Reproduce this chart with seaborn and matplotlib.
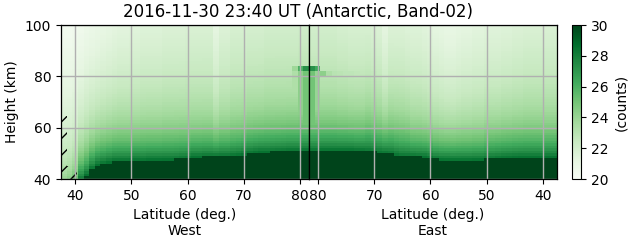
import numpy as np
import pandas as pd
import matplotlib
matplotlib.use("Agg")
import matplotlib.pyplot as plt
import seaborn as sns

# ---------------- data ----------------
title = "2016-11-30 23:40 UT (Antarctic, Band-02)"
lat_min, lat_max = 37.5, 81.6          # latitude range of each half
h_min, h_max = 40, 100                 # height range (km)
n_cols = 44                            # ~1 degree columns per half
west_ticks = [40, 50, 60, 70, 80]
east_ticks = [80, 70, 60, 50, 40]
height_ticks = [40, 60, 80, 100]
cbar_ticks = [20, 22, 24, 26, 28, 30]

# West half, columns ordered from 37.5 deg (left) to 81.6 deg (pole)
dark_top_w = [28, 30, 33, 39.5, 41.5, 44, 45.5, 46, 46.5, 47, 47, 47, 47.2, 47.2,
              47.2, 47.4, 47.4, 47.4, 47.5, 47.5, 47.6, 47.8, 48, 48.5, 48.5, 48.7,
              48.7, 48.7, 48.8, 48.8, 49, 49.2, 49.5, 50, 50.3, 50.5, 50.5, 50.6,
              50.7, 50.8, 51, 51, 51, 51]
grad_w_w = [9, 9, 9, 10, 10, 10, 10, 10, 10, 10, 10, 10, 9.5, 9.5, 9.5, 9.5, 9.5,
            9.5, 9.5, 9.5, 9.5, 9.5, 9, 9, 9, 9, 9, 9, 9, 9, 9, 9, 9, 9, 9, 9, 9, 9,
            9, 9, 9, 9, 9, 9]
bg_top_w = [20.3, 20.3, 20.4, 20.5, 20.7, 20.8, 20.9, 21.0, 21.1, 21.2, 21.3, 21.3,
            21.4, 21.4, 21.5, 21.5, 21.5, 21.5, 21.6, 21.6, 21.6, 21.6, 21.7, 21.7,
            21.7, 21.7, 21.7, 21.2, 21.6, 21.6, 21.8, 21.8, 21.8, 21.9, 21.9, 21.9,
            22.0, 22.0, 22.0, 22.0, 22.0, 22.0, 22.1, 22.1]
plume_w = [0] * 41 + [23.3, 24.3, 25.0]      # enhanced column near the pole
cap_w = [0] * 41 + [23.8, 26.0, 27.3]        # bright cap at 82-84 km
layer_w = [0] * 44                           # faint layer at 80-82 km

# East half, columns ordered from 81.6 deg (pole) to 37.5 deg (right)
dark_top_e = [51, 51, 51.2, 51.2, 51.2, 51.2, 51.2, 51.2, 51, 51, 50.8, 50.6, 50.2,
              50, 49.8, 49.2, 48.8, 48.7, 48.7, 48.6, 48.5, 48.2, 47.6, 47.4, 47.4,
              47.3, 47.3, 47.3, 47.3, 47.4, 47.4, 47.6, 47.8, 48, 48.2, 48.3, 48.4,
              48.5, 48.5, 48.5, 48.5, 48.4, 48.4, 48.4]
grad_w_e = [9, 9, 9, 9, 9, 9, 9, 9, 9, 9, 10, 10, 10, 10, 10, 10, 10, 10, 9, 9, 9,
            9, 9, 9, 9, 9, 9, 9, 9, 9, 9, 9.5, 9.5, 9.5, 9.5, 9.5, 9.5, 9.5, 9.5,
            9.5, 9.5, 9.5, 9.5, 9.5]
bg_top_e = [22.0, 22.0, 22.0, 22.0, 22.0, 21.9, 21.9, 21.8, 21.8, 21.8, 21.8, 21.7,
            21.6, 21.2, 21.6, 21.6, 21.6, 21.5, 21.5, 21.5, 21.4, 21.3, 21.2, 21.1,
            21.0, 21.0, 21.1, 21.2, 21.2, 21.3, 21.3, 21.4, 21.4, 21.4, 21.5, 21.5,
            21.6, 21.6, 21.7, 21.7, 21.7, 21.7, 21.7, 21.7]
plume_e = [25.0, 24.0] + [0] * 42
cap_e = [27.3, 26.3] + [0] * 42
layer_e = [0, 0, 24.3, 23.3, 23.0, 22.9, 22.8, 22.8, 22.7] + [0] * 35

bg_slope = 0.035        # counts per km increase of background downward
# no-data (hatched) area on the West side: (lat, height) corners
hatch_lat = [37.5, 37.5, 38.6, 38.6, 40.3, 40.3]
hatch_h = [40, 64.5, 64.5, 45, 45, 40]


def build(dark, gw, bgt, plume, cap, layer):
    heights = np.arange(h_max - 0.5, h_min, -1.0)   # top row first
    grid = np.zeros((len(heights), n_cols))
    for c in range(n_cols):
        bg = bgt[c] + bg_slope * (100 - heights)
        val = bg + (28.5 - bg) * np.exp(-(heights - dark[c]) / gw[c])
        val = np.where(heights < dark[c], 31.0, val)
        if plume[c]:
            m = (heights > dark[c]) & (heights < 82)
            val[m] = np.maximum(val[m], plume[c])
        if layer[c]:
            m = (heights > 80) & (heights < 82)
            val[m] = np.maximum(val[m], layer[c])
        if cap[c]:
            m = (heights > 82) & (heights < 84.5)
            val[m] = np.maximum(val[m], cap[c])
        grid[:, c] = val
    return pd.DataFrame(grid, index=heights)


west = build(dark_top_w, grad_w_w, bg_top_w, plume_w, cap_w, layer_w)
east = build(dark_top_e, grad_w_e, bg_top_e, plume_e, cap_e, layer_e)

# ---------------- figure ----------------
fig = plt.figure(figsize=(6.31, 2.43), dpi=100)
W, H = 631, 243
def box(x0, x1, y0, y1):
    return [x0 / W, 1 - y1 / H, (x1 - x0) / W, (y1 - y0) / H]

ax_w = fig.add_axes(box(61, 309, 25, 179))
ax_e = fig.add_axes(box(309, 557, 25, 179))
cax = fig.add_axes(box(572, 581, 25, 179))

step = (lat_max - lat_min) / n_cols

sns.heatmap(west, ax=ax_w, cmap="Greens", vmin=20, vmax=30, cbar=False,
            xticklabels=False, yticklabels=False)
sns.heatmap(east, ax=ax_e, cmap="Greens", vmin=20, vmax=30, cbar=True,
            cbar_ax=cax, xticklabels=False, yticklabels=False)

def ypos(h):
    return h_max - h

for ax, ticks, side in [(ax_w, west_ticks, "West"), (ax_e, east_ticks, "East")]:
    if side == "West":
        xp = [(t - lat_min) / step for t in ticks]
    else:
        xp = [(lat_max - t) / step for t in ticks]
    ax.set_xticks(xp)
    ax.set_xticklabels([str(t) for t in ticks], fontsize=10, rotation=0)
    ax.set_yticks([ypos(h) for h in height_ticks])
    ax.set_xlabel("Latitude (deg.)\n" + side, fontsize=10)
    ax.grid(True, color="#b0b0b0", linewidth=1.0)
    ax.set_axisbelow(False)
    for s in ax.spines.values():
        s.set_visible(True)
        s.set_color("black")
        s.set_linewidth(0.9)
        s.set_zorder(4)
    ax.tick_params(axis="both", length=3.5, width=0.8, direction="out")

ax_w.set_yticklabels([str(h) for h in height_ticks], fontsize=10, rotation=0)
ax_w.set_ylabel("Height (km)", fontsize=10)
ax_e.tick_params(axis="y", length=0, labelleft=False)

# hatched no-data area
ax_w.fill([(la - lat_min) / step for la in hatch_lat], [ypos(h) for h in hatch_h],
          facecolor="none", edgecolor="black", hatch="//", linewidth=0, zorder=2)

cb = ax_e.collections[0].colorbar
cb.outline.set_linewidth(0.8)
cb.outline.set_edgecolor("black")
cb.set_ticks(cbar_ticks)
cb.ax.tick_params(labelsize=10, length=3.5, width=0.8)
cb.set_label("(counts)", fontsize=10)

fig.text(298 / W, 1 - 12 / H, title, ha="center", va="center", fontsize=12)

fig.savefig("out.png", dpi=100)
